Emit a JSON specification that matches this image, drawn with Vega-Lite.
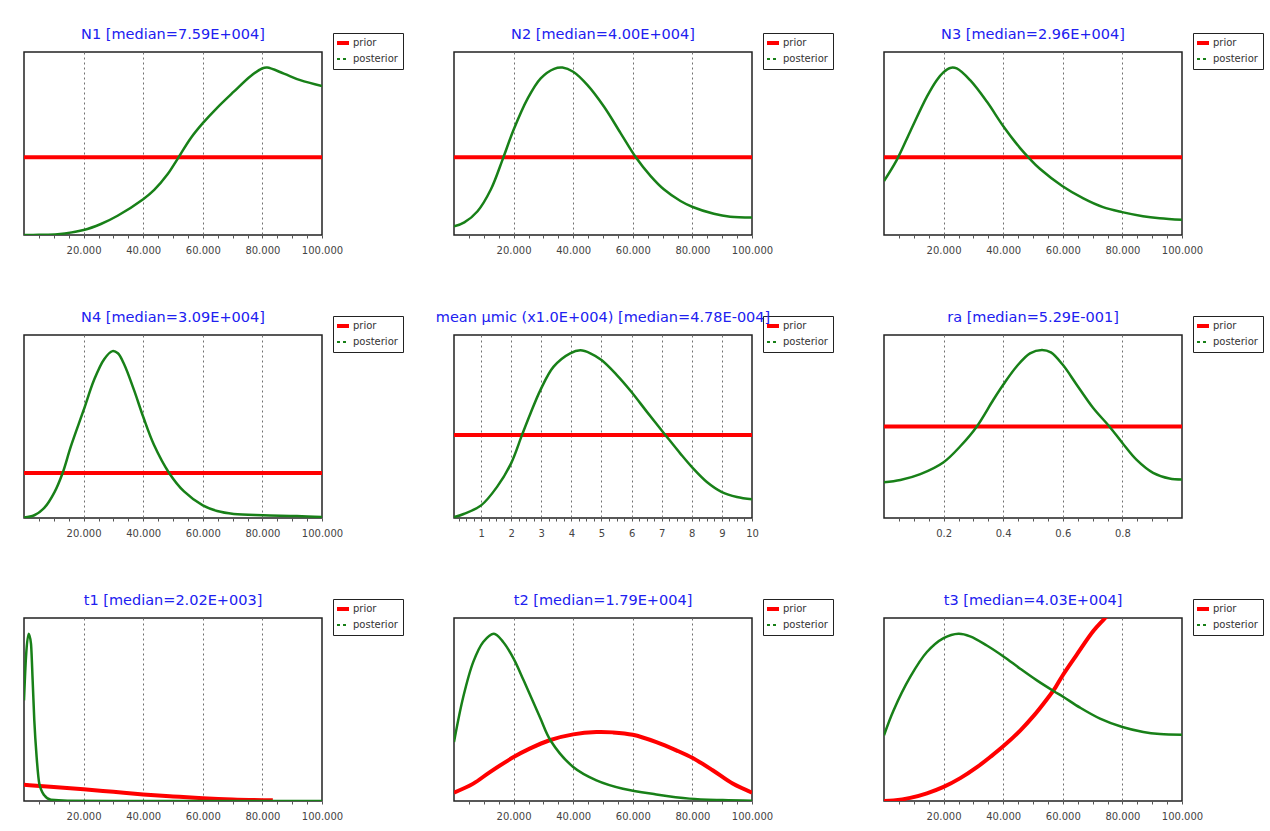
{
"$schema": "https://vega.github.io/schema/vega-lite/v6.json",
"background": "white",
"padding": {"left": 23, "top": 26, "right": 5, "bottom": 5},
"datasets": {"d": [
{"p":"N1","s":"prior","x":0,"y":0.425},{"p":"N1","s":"prior","x":100000,"y":0.425},
{"p":"N1","s":"posterior","x":0,"y":0},{"p":"N1","s":"posterior","x":5000,"y":0.001},{"p":"N1","s":"posterior","x":11300,"y":0.004},{"p":"N1","s":"posterior","x":20000,"y":0.027},{"p":"N1","s":"posterior","x":25800,"y":0.06},{"p":"N1","s":"posterior","x":31400,"y":0.105},{"p":"N1","s":"posterior","x":40000,"y":0.195},{"p":"N1","s":"posterior","x":43700,"y":0.246},{"p":"N1","s":"posterior","x":48100,"y":0.33},{"p":"N1","s":"posterior","x":51500,"y":0.415},{"p":"N1","s":"posterior","x":56000,"y":0.53},{"p":"N1","s":"posterior","x":60000,"y":0.611},{"p":"N1","s":"posterior","x":64800,"y":0.695},{"p":"N1","s":"posterior","x":70400,"y":0.783},{"p":"N1","s":"posterior","x":76000,"y":0.868},{"p":"N1","s":"posterior","x":79900,"y":0.91},{"p":"N1","s":"posterior","x":81600,"y":0.915},{"p":"N1","s":"posterior","x":87200,"y":0.882},{"p":"N1","s":"posterior","x":92700,"y":0.846},{"p":"N1","s":"posterior","x":100000,"y":0.814},
{"p":"N2","s":"prior","x":0,"y":0.425},{"p":"N2","s":"prior","x":100000,"y":0.425},
{"p":"N2","s":"posterior","x":0,"y":0.047},{"p":"N2","s":"posterior","x":3460,"y":0.069},{"p":"N2","s":"posterior","x":7900,"y":0.13},{"p":"N2","s":"posterior","x":12400,"y":0.25},{"p":"N2","s":"posterior","x":16300,"y":0.412},{"p":"N2","s":"posterior","x":20000,"y":0.575},{"p":"N2","s":"posterior","x":24700,"y":0.745},{"p":"N2","s":"posterior","x":29100,"y":0.856},{"p":"N2","s":"posterior","x":33600,"y":0.908},{"p":"N2","s":"posterior","x":36400,"y":0.915},{"p":"N2","s":"posterior","x":40000,"y":0.892},{"p":"N2","s":"posterior","x":44800,"y":0.819},{"p":"N2","s":"posterior","x":50300,"y":0.702},{"p":"N2","s":"posterior","x":55900,"y":0.557},{"p":"N2","s":"posterior","x":61000,"y":0.425},{"p":"N2","s":"posterior","x":66000,"y":0.322},{"p":"N2","s":"posterior","x":70400,"y":0.25},{"p":"N2","s":"posterior","x":76000,"y":0.186},{"p":"N2","s":"posterior","x":80100,"y":0.153},{"p":"N2","s":"posterior","x":87200,"y":0.116},{"p":"N2","s":"posterior","x":92700,"y":0.1},{"p":"N2","s":"posterior","x":100000,"y":0.096},
{"p":"N3","s":"prior","x":0,"y":0.425},{"p":"N3","s":"prior","x":100000,"y":0.425},
{"p":"N3","s":"posterior","x":0,"y":0.295},{"p":"N3","s":"posterior","x":4350,"y":0.412},{"p":"N3","s":"posterior","x":8800,"y":0.566},{"p":"N3","s":"posterior","x":14400,"y":0.756},{"p":"N3","s":"posterior","x":17700,"y":0.846},{"p":"N3","s":"posterior","x":20000,"y":0.89},{"p":"N3","s":"posterior","x":22200,"y":0.913},{"p":"N3","s":"posterior","x":24400,"y":0.91},{"p":"N3","s":"posterior","x":28900,"y":0.846},{"p":"N3","s":"posterior","x":34500,"y":0.729},{"p":"N3","s":"posterior","x":40100,"y":0.593},{"p":"N3","s":"posterior","x":45600,"y":0.476},{"p":"N3","s":"posterior","x":49000,"y":0.415},{"p":"N3","s":"posterior","x":52300,"y":0.362},{"p":"N3","s":"posterior","x":59800,"y":0.268},{"p":"N3","s":"posterior","x":66900,"y":0.2},{"p":"N3","s":"posterior","x":73500,"y":0.152},{"p":"N3","s":"posterior","x":79900,"y":0.125},{"p":"N3","s":"posterior","x":86900,"y":0.103},{"p":"N3","s":"posterior","x":92500,"y":0.092},{"p":"N3","s":"posterior","x":100000,"y":0.083},
{"p":"N4","s":"prior","x":0,"y":0.246},{"p":"N4","s":"prior","x":100000,"y":0.246},
{"p":"N4","s":"posterior","x":0,"y":0.002},{"p":"N4","s":"posterior","x":3460,"y":0.015},{"p":"N4","s":"posterior","x":6800,"y":0.055},{"p":"N4","s":"posterior","x":10200,"y":0.14},{"p":"N4","s":"posterior","x":12900,"y":0.243},{"p":"N4","s":"posterior","x":15700,"y":0.39},{"p":"N4","s":"posterior","x":20000,"y":0.589},{"p":"N4","s":"posterior","x":23500,"y":0.754},{"p":"N4","s":"posterior","x":26900,"y":0.868},{"p":"N4","s":"posterior","x":29700,"y":0.912},{"p":"N4","s":"posterior","x":31500,"y":0.9},{"p":"N4","s":"posterior","x":33600,"y":0.84},{"p":"N4","s":"posterior","x":36900,"y":0.7},{"p":"N4","s":"posterior","x":40000,"y":0.553},{"p":"N4","s":"posterior","x":43600,"y":0.4},{"p":"N4","s":"posterior","x":48700,"y":0.246},{"p":"N4","s":"posterior","x":53700,"y":0.145},{"p":"N4","s":"posterior","x":60000,"y":0.069},{"p":"N4","s":"posterior","x":64800,"y":0.038},{"p":"N4","s":"posterior","x":70400,"y":0.022},{"p":"N4","s":"posterior","x":80100,"y":0.015},{"p":"N4","s":"posterior","x":91600,"y":0.011},{"p":"N4","s":"posterior","x":100000,"y":0.005},
{"p":"mu","s":"prior","x":0.1,"y":0.454},{"p":"mu","s":"prior","x":10,"y":0.454},
{"p":"mu","s":"posterior","x":0.1,"y":0.005},{"p":"mu","s":"posterior","x":0.42,"y":0.022},{"p":"mu","s":"posterior","x":1.0,"y":0.069},{"p":"mu","s":"posterior","x":1.53,"y":0.17},{"p":"mu","s":"posterior","x":2.0,"y":0.3},{"p":"mu","s":"posterior","x":2.36,"y":0.454},{"p":"mu","s":"posterior","x":2.64,"y":0.571},{"p":"mu","s":"posterior","x":2.97,"y":0.699},{"p":"mu","s":"posterior","x":3.41,"y":0.827},{"p":"mu","s":"posterior","x":3.96,"y":0.9},{"p":"mu","s":"posterior","x":4.3,"y":0.916},{"p":"mu","s":"posterior","x":4.63,"y":0.9},{"p":"mu","s":"posterior","x":5.0,"y":0.863},{"p":"mu","s":"posterior","x":5.51,"y":0.781},{"p":"mu","s":"posterior","x":5.99,"y":0.69},{"p":"mu","s":"posterior","x":6.51,"y":0.58},{"p":"mu","s":"posterior","x":7.12,"y":0.454},{"p":"mu","s":"posterior","x":7.62,"y":0.352},{"p":"mu","s":"posterior","x":8.0,"y":0.279},{"p":"mu","s":"posterior","x":8.5,"y":0.197},{"p":"mu","s":"posterior","x":9.0,"y":0.142},{"p":"mu","s":"posterior","x":9.5,"y":0.115},{"p":"mu","s":"posterior","x":10,"y":0.102},
{"p":"ra","s":"prior","x":0,"y":0.5},{"p":"ra","s":"prior","x":1,"y":0.5},
{"p":"ra","s":"posterior","x":0,"y":0.196},{"p":"ra","s":"posterior","x":0.055,"y":0.208},{"p":"ra","s":"posterior","x":0.122,"y":0.24},{"p":"ra","s":"posterior","x":0.2,"y":0.305},{"p":"ra","s":"posterior","x":0.256,"y":0.392},{"p":"ra","s":"posterior","x":0.311,"y":0.499},{"p":"ra","s":"posterior","x":0.367,"y":0.646},{"p":"ra","s":"posterior","x":0.4,"y":0.728},{"p":"ra","s":"posterior","x":0.445,"y":0.828},{"p":"ra","s":"posterior","x":0.49,"y":0.9},{"p":"ra","s":"posterior","x":0.53,"y":0.918},{"p":"ra","s":"posterior","x":0.56,"y":0.905},{"p":"ra","s":"posterior","x":0.6,"y":0.837},{"p":"ra","s":"posterior","x":0.646,"y":0.73},{"p":"ra","s":"posterior","x":0.702,"y":0.601},{"p":"ra","s":"posterior","x":0.757,"y":0.499},{"p":"ra","s":"posterior","x":0.8,"y":0.41},{"p":"ra","s":"posterior","x":0.847,"y":0.319},{"p":"ra","s":"posterior","x":0.903,"y":0.247},{"p":"ra","s":"posterior","x":0.958,"y":0.216},{"p":"ra","s":"posterior","x":1,"y":0.211},
{"p":"t1","s":"prior","x":0,"y":0.089},{"p":"t1","s":"prior","x":10000,"y":0.076},{"p":"t1","s":"prior","x":20000,"y":0.064},{"p":"t1","s":"prior","x":30000,"y":0.05},{"p":"t1","s":"prior","x":40000,"y":0.036},{"p":"t1","s":"prior","x":50000,"y":0.025},{"p":"t1","s":"prior","x":60000,"y":0.015},{"p":"t1","s":"prior","x":70000,"y":0.008},{"p":"t1","s":"prior","x":83500,"y":0.004},
{"p":"t1","s":"posterior","x":0,"y":0.55},{"p":"t1","s":"posterior","x":670,"y":0.787},{"p":"t1","s":"posterior","x":1560,"y":0.914},{"p":"t1","s":"posterior","x":2340,"y":0.86},{"p":"t1","s":"posterior","x":2900,"y":0.66},{"p":"t1","s":"posterior","x":3460,"y":0.44},{"p":"t1","s":"posterior","x":4240,"y":0.24},{"p":"t1","s":"posterior","x":5130,"y":0.095},{"p":"t1","s":"posterior","x":6800,"y":0.031},{"p":"t1","s":"posterior","x":9040,"y":0.007},{"p":"t1","s":"posterior","x":14600,"y":0.002},{"p":"t1","s":"posterior","x":30000,"y":0},{"p":"t1","s":"posterior","x":100000,"y":0},
{"p":"t2","s":"prior","x":0,"y":0.046},{"p":"t2","s":"prior","x":6470,"y":0.095},{"p":"t2","s":"prior","x":12050,"y":0.158},{"p":"t2","s":"prior","x":20000,"y":0.24},{"p":"t2","s":"prior","x":25400,"y":0.286},{"p":"t2","s":"prior","x":32100,"y":0.332},{"p":"t2","s":"prior","x":40000,"y":0.364},{"p":"t2","s":"prior","x":47800,"y":0.377},{"p":"t2","s":"prior","x":53300,"y":0.375},{"p":"t2","s":"prior","x":60000,"y":0.362},{"p":"t2","s":"prior","x":67900,"y":0.322},{"p":"t2","s":"prior","x":74600,"y":0.277},{"p":"t2","s":"prior","x":80100,"y":0.235},{"p":"t2","s":"prior","x":86800,"y":0.168},{"p":"t2","s":"prior","x":93500,"y":0.095},{"p":"t2","s":"prior","x":100000,"y":0.046},
{"p":"t2","s":"posterior","x":0,"y":0.322},{"p":"t2","s":"posterior","x":3100,"y":0.568},{"p":"t2","s":"posterior","x":6470,"y":0.76},{"p":"t2","s":"posterior","x":9800,"y":0.869},{"p":"t2","s":"posterior","x":13400,"y":0.914},{"p":"t2","s":"posterior","x":16500,"y":0.869},{"p":"t2","s":"posterior","x":20000,"y":0.778},{"p":"t2","s":"posterior","x":23400,"y":0.658},{"p":"t2","s":"posterior","x":28800,"y":0.459},{"p":"t2","s":"posterior","x":32500,"y":0.328},{"p":"t2","s":"posterior","x":40000,"y":0.186},{"p":"t2","s":"posterior","x":47800,"y":0.113},{"p":"t2","s":"posterior","x":56700,"y":0.067},{"p":"t2","s":"posterior","x":67900,"y":0.036},{"p":"t2","s":"posterior","x":79000,"y":0.013},{"p":"t2","s":"posterior","x":90200,"y":0.005},{"p":"t2","s":"posterior","x":100000,"y":0.002},
{"p":"t3","s":"prior","x":0,"y":0},{"p":"t3","s":"prior","x":3200,"y":0.003},{"p":"t3","s":"prior","x":8800,"y":0.017},{"p":"t3","s":"prior","x":14400,"y":0.042},{"p":"t3","s":"prior","x":20000,"y":0.077},{"p":"t3","s":"prior","x":25600,"y":0.125},{"p":"t3","s":"prior","x":31200,"y":0.185},{"p":"t3","s":"prior","x":36000,"y":0.245},{"p":"t3","s":"prior","x":40100,"y":0.3},{"p":"t3","s":"prior","x":45700,"y":0.385},{"p":"t3","s":"prior","x":50200,"y":0.465},{"p":"t3","s":"prior","x":54600,"y":0.555},{"p":"t3","s":"prior","x":57500,"y":0.62},{"p":"t3","s":"prior","x":60100,"y":0.69},{"p":"t3","s":"prior","x":64700,"y":0.8},{"p":"t3","s":"prior","x":70300,"y":0.93},{"p":"t3","s":"prior","x":74200,"y":1.0},{"p":"t3","s":"prior","x":78000,"y":1.07},
{"p":"t3","s":"posterior","x":0,"y":0.359},{"p":"t3","s":"posterior","x":3200,"y":0.495},{"p":"t3","s":"posterior","x":8800,"y":0.678},{"p":"t3","s":"posterior","x":14400,"y":0.814},{"p":"t3","s":"posterior","x":20000,"y":0.89},{"p":"t3","s":"posterior","x":25000,"y":0.914},{"p":"t3","s":"posterior","x":28900,"y":0.9},{"p":"t3","s":"posterior","x":34500,"y":0.85},{"p":"t3","s":"posterior","x":40100,"y":0.79},{"p":"t3","s":"posterior","x":45700,"y":0.723},{"p":"t3","s":"posterior","x":51300,"y":0.659},{"p":"t3","s":"posterior","x":57000,"y":0.6},{"p":"t3","s":"posterior","x":60100,"y":0.57},{"p":"t3","s":"posterior","x":65800,"y":0.51},{"p":"t3","s":"posterior","x":72500,"y":0.45},{"p":"t3","s":"posterior","x":80000,"y":0.404},{"p":"t3","s":"posterior","x":87000,"y":0.377},{"p":"t3","s":"posterior","x":92600,"y":0.366},{"p":"t3","s":"posterior","x":100000,"y":0.362}
]},
"columns": 3,
"spacing": {"row": 100, "column": 132},
"bounds": "flush",
"resolve": {"scale": {"x": "independent", "y": "independent", "color": "independent"}, "legend": {"color": "independent"}},
"concat": [
{"width": 298, "height": 183, "title": "N1 [median=7.59E+004]", "data": {"name": "d"}, "transform": [{"filter": "datum.p === 'N1'"}],
 "encoding": {
  "x": {"field": "x", "type": "quantitative", "title": null, "scale": {"domain": [0, 100000], "nice": false, "zero": false}, "axis": {"values": [5000,10000,15000,20000,25000,30000,35000,40000,45000,50000,55000,60000,65000,70000,75000,80000,85000,90000,95000,100000], "labelExpr": "datum.value % 20000 === 0 ? replace(format(datum.value, ','), ',', '.') : ''", "gridOpacity": {"condition": {"test": "datum.value % 20000 === 0 && datum.value < 100000", "value": 1}, "value": 0}}},
  "y": {"field": "y", "type": "quantitative", "scale": {"domain": [0, 1], "nice": false}, "axis": null},
  "color": {"field": "s", "type": "nominal", "scale": {"domain": ["prior", "posterior"], "range": ["#ff0000", "#188018"]}, "legend": {"title": null, "orient": "none", "legendX": 309, "legendY": -19, "encode": {"symbols": {"update": {"strokeDash": {"signal": "datum.value === 'posterior' ? [3, 3] : [1, 0]"}, "strokeWidth": {"signal": "datum.value === 'posterior' ? 2 : 4"}}}}}}
 },
 "layer": [
  {"transform": [{"filter": "datum.s === 'prior'"}], "mark": {"type": "line", "strokeWidth": 4, "interpolate": "catmull-rom", "clip": true}},
  {"transform": [{"filter": "datum.s === 'posterior'"}], "mark": {"type": "line", "strokeWidth": 2.5, "interpolate": "catmull-rom", "clip": true}}
 ]},
{"width": 298, "height": 183, "title": "N2 [median=4.00E+004]", "data": {"name": "d"}, "transform": [{"filter": "datum.p === 'N2'"}],
 "encoding": {
  "x": {"field": "x", "type": "quantitative", "title": null, "scale": {"domain": [0, 100000], "nice": false, "zero": false}, "axis": {"values": [5000,10000,15000,20000,25000,30000,35000,40000,45000,50000,55000,60000,65000,70000,75000,80000,85000,90000,95000,100000], "labelExpr": "datum.value % 20000 === 0 ? replace(format(datum.value, ','), ',', '.') : ''", "gridOpacity": {"condition": {"test": "datum.value % 20000 === 0 && datum.value < 100000", "value": 1}, "value": 0}}},
  "y": {"field": "y", "type": "quantitative", "scale": {"domain": [0, 1], "nice": false}, "axis": null},
  "color": {"field": "s", "type": "nominal", "scale": {"domain": ["prior", "posterior"], "range": ["#ff0000", "#188018"]}, "legend": {"title": null, "orient": "none", "legendX": 309, "legendY": -19, "encode": {"symbols": {"update": {"strokeDash": {"signal": "datum.value === 'posterior' ? [3, 3] : [1, 0]"}, "strokeWidth": {"signal": "datum.value === 'posterior' ? 2 : 4"}}}}}}
 },
 "layer": [
  {"transform": [{"filter": "datum.s === 'prior'"}], "mark": {"type": "line", "strokeWidth": 4, "interpolate": "catmull-rom", "clip": true}},
  {"transform": [{"filter": "datum.s === 'posterior'"}], "mark": {"type": "line", "strokeWidth": 2.5, "interpolate": "catmull-rom", "clip": true}}
 ]},
{"width": 298, "height": 183, "title": "N3 [median=2.96E+004]", "data": {"name": "d"}, "transform": [{"filter": "datum.p === 'N3'"}],
 "encoding": {
  "x": {"field": "x", "type": "quantitative", "title": null, "scale": {"domain": [0, 100000], "nice": false, "zero": false}, "axis": {"values": [5000,10000,15000,20000,25000,30000,35000,40000,45000,50000,55000,60000,65000,70000,75000,80000,85000,90000,95000,100000], "labelExpr": "datum.value % 20000 === 0 ? replace(format(datum.value, ','), ',', '.') : ''", "gridOpacity": {"condition": {"test": "datum.value % 20000 === 0 && datum.value < 100000", "value": 1}, "value": 0}}},
  "y": {"field": "y", "type": "quantitative", "scale": {"domain": [0, 1], "nice": false}, "axis": null},
  "color": {"field": "s", "type": "nominal", "scale": {"domain": ["prior", "posterior"], "range": ["#ff0000", "#188018"]}, "legend": {"title": null, "orient": "none", "legendX": 309, "legendY": -19, "encode": {"symbols": {"update": {"strokeDash": {"signal": "datum.value === 'posterior' ? [3, 3] : [1, 0]"}, "strokeWidth": {"signal": "datum.value === 'posterior' ? 2 : 4"}}}}}}
 },
 "layer": [
  {"transform": [{"filter": "datum.s === 'prior'"}], "mark": {"type": "line", "strokeWidth": 4, "interpolate": "catmull-rom", "clip": true}},
  {"transform": [{"filter": "datum.s === 'posterior'"}], "mark": {"type": "line", "strokeWidth": 2.5, "interpolate": "catmull-rom", "clip": true}}
 ]},
{"width": 298, "height": 183, "title": "N4 [median=3.09E+004]", "data": {"name": "d"}, "transform": [{"filter": "datum.p === 'N4'"}],
 "encoding": {
  "x": {"field": "x", "type": "quantitative", "title": null, "scale": {"domain": [0, 100000], "nice": false, "zero": false}, "axis": {"values": [5000,10000,15000,20000,25000,30000,35000,40000,45000,50000,55000,60000,65000,70000,75000,80000,85000,90000,95000,100000], "labelExpr": "datum.value % 20000 === 0 ? replace(format(datum.value, ','), ',', '.') : ''", "gridOpacity": {"condition": {"test": "datum.value % 20000 === 0 && datum.value < 100000", "value": 1}, "value": 0}}},
  "y": {"field": "y", "type": "quantitative", "scale": {"domain": [0, 1], "nice": false}, "axis": null},
  "color": {"field": "s", "type": "nominal", "scale": {"domain": ["prior", "posterior"], "range": ["#ff0000", "#188018"]}, "legend": {"title": null, "orient": "none", "legendX": 309, "legendY": -19, "encode": {"symbols": {"update": {"strokeDash": {"signal": "datum.value === 'posterior' ? [3, 3] : [1, 0]"}, "strokeWidth": {"signal": "datum.value === 'posterior' ? 2 : 4"}}}}}}
 },
 "layer": [
  {"transform": [{"filter": "datum.s === 'prior'"}], "mark": {"type": "line", "strokeWidth": 4, "interpolate": "catmull-rom", "clip": true}},
  {"transform": [{"filter": "datum.s === 'posterior'"}], "mark": {"type": "line", "strokeWidth": 2.5, "interpolate": "catmull-rom", "clip": true}}
 ]},
{"width": 298, "height": 183, "title": "mean µmic (x1.0E+004) [median=4.78E-004]", "data": {"name": "d"}, "transform": [{"filter": "datum.p === 'mu'"}],
 "encoding": {
  "x": {"field": "x", "type": "quantitative", "title": null, "scale": {"domain": [0.1, 10], "nice": false, "zero": false}, "axis": {"values": [0.25,0.5,0.75,1,1.25,1.5,1.75,2,2.25,2.5,2.75,3,3.25,3.5,3.75,4,4.25,4.5,4.75,5,5.25,5.5,5.75,6,6.25,6.5,6.75,7,7.25,7.5,7.75,8,8.25,8.5,8.75,9,9.25,9.5,9.75,10], "labelExpr": "datum.value % 1 === 0 ? format(datum.value, 'd') : ''", "gridOpacity": {"condition": {"test": "datum.value % 1 === 0 && datum.value < 10", "value": 1}, "value": 0}}},
  "y": {"field": "y", "type": "quantitative", "scale": {"domain": [0, 1], "nice": false}, "axis": null},
  "color": {"field": "s", "type": "nominal", "scale": {"domain": ["prior", "posterior"], "range": ["#ff0000", "#188018"]}, "legend": {"title": null, "orient": "none", "legendX": 309, "legendY": -19, "encode": {"symbols": {"update": {"strokeDash": {"signal": "datum.value === 'posterior' ? [3, 3] : [1, 0]"}, "strokeWidth": {"signal": "datum.value === 'posterior' ? 2 : 4"}}}}}}
 },
 "layer": [
  {"transform": [{"filter": "datum.s === 'prior'"}], "mark": {"type": "line", "strokeWidth": 4, "interpolate": "catmull-rom", "clip": true}},
  {"transform": [{"filter": "datum.s === 'posterior'"}], "mark": {"type": "line", "strokeWidth": 2.5, "interpolate": "catmull-rom", "clip": true}}
 ]},
{"width": 298, "height": 183, "title": "ra [median=5.29E-001]", "data": {"name": "d"}, "transform": [{"filter": "datum.p === 'ra'"}],
 "encoding": {
  "x": {"field": "x", "type": "quantitative", "title": null, "scale": {"domain": [0, 1], "nice": false, "zero": false}, "axis": {"values": [0.05,0.1,0.15,0.2,0.25,0.3,0.35,0.4,0.45,0.5,0.55,0.6,0.65,0.7,0.75,0.8,0.85,0.9,0.95], "labelExpr": "abs(datum.value * 5 - round(datum.value * 5)) < 0.001 ? format(datum.value, '.1f') : ''", "gridOpacity": {"condition": {"test": "abs(datum.value * 5 - round(datum.value * 5)) < 0.001", "value": 1}, "value": 0}}},
  "y": {"field": "y", "type": "quantitative", "scale": {"domain": [0, 1], "nice": false}, "axis": null},
  "color": {"field": "s", "type": "nominal", "scale": {"domain": ["prior", "posterior"], "range": ["#ff0000", "#188018"]}, "legend": {"title": null, "orient": "none", "legendX": 309, "legendY": -19, "encode": {"symbols": {"update": {"strokeDash": {"signal": "datum.value === 'posterior' ? [3, 3] : [1, 0]"}, "strokeWidth": {"signal": "datum.value === 'posterior' ? 2 : 4"}}}}}}
 },
 "layer": [
  {"transform": [{"filter": "datum.s === 'prior'"}], "mark": {"type": "line", "strokeWidth": 4, "interpolate": "catmull-rom", "clip": true}},
  {"transform": [{"filter": "datum.s === 'posterior'"}], "mark": {"type": "line", "strokeWidth": 2.5, "interpolate": "catmull-rom", "clip": true}}
 ]},
{"width": 298, "height": 183, "title": "t1 [median=2.02E+003]", "data": {"name": "d"}, "transform": [{"filter": "datum.p === 't1'"}],
 "encoding": {
  "x": {"field": "x", "type": "quantitative", "title": null, "scale": {"domain": [0, 100000], "nice": false, "zero": false}, "axis": {"values": [5000,10000,15000,20000,25000,30000,35000,40000,45000,50000,55000,60000,65000,70000,75000,80000,85000,90000,95000,100000], "labelExpr": "datum.value % 20000 === 0 ? replace(format(datum.value, ','), ',', '.') : ''", "gridOpacity": {"condition": {"test": "datum.value % 20000 === 0 && datum.value < 100000", "value": 1}, "value": 0}}},
  "y": {"field": "y", "type": "quantitative", "scale": {"domain": [0, 1], "nice": false}, "axis": null},
  "color": {"field": "s", "type": "nominal", "scale": {"domain": ["prior", "posterior"], "range": ["#ff0000", "#188018"]}, "legend": {"title": null, "orient": "none", "legendX": 309, "legendY": -19, "encode": {"symbols": {"update": {"strokeDash": {"signal": "datum.value === 'posterior' ? [3, 3] : [1, 0]"}, "strokeWidth": {"signal": "datum.value === 'posterior' ? 2 : 4"}}}}}}
 },
 "layer": [
  {"transform": [{"filter": "datum.s === 'prior'"}], "mark": {"type": "line", "strokeWidth": 4, "interpolate": "monotone", "clip": true}},
  {"transform": [{"filter": "datum.s === 'posterior'"}], "mark": {"type": "line", "strokeWidth": 2.5, "interpolate": "monotone", "clip": true}}
 ]},
{"width": 298, "height": 183, "title": "t2 [median=1.79E+004]", "data": {"name": "d"}, "transform": [{"filter": "datum.p === 't2'"}],
 "encoding": {
  "x": {"field": "x", "type": "quantitative", "title": null, "scale": {"domain": [0, 100000], "nice": false, "zero": false}, "axis": {"values": [5000,10000,15000,20000,25000,30000,35000,40000,45000,50000,55000,60000,65000,70000,75000,80000,85000,90000,95000,100000], "labelExpr": "datum.value % 20000 === 0 ? replace(format(datum.value, ','), ',', '.') : ''", "gridOpacity": {"condition": {"test": "datum.value % 20000 === 0 && datum.value < 100000", "value": 1}, "value": 0}}},
  "y": {"field": "y", "type": "quantitative", "scale": {"domain": [0, 1], "nice": false}, "axis": null},
  "color": {"field": "s", "type": "nominal", "scale": {"domain": ["prior", "posterior"], "range": ["#ff0000", "#188018"]}, "legend": {"title": null, "orient": "none", "legendX": 309, "legendY": -19, "encode": {"symbols": {"update": {"strokeDash": {"signal": "datum.value === 'posterior' ? [3, 3] : [1, 0]"}, "strokeWidth": {"signal": "datum.value === 'posterior' ? 2 : 4"}}}}}}
 },
 "layer": [
  {"transform": [{"filter": "datum.s === 'prior'"}], "mark": {"type": "line", "strokeWidth": 4, "interpolate": "catmull-rom", "clip": true}},
  {"transform": [{"filter": "datum.s === 'posterior'"}], "mark": {"type": "line", "strokeWidth": 2.5, "interpolate": "catmull-rom", "clip": true}}
 ]},
{"width": 298, "height": 183, "title": "t3 [median=4.03E+004]", "data": {"name": "d"}, "transform": [{"filter": "datum.p === 't3'"}],
 "encoding": {
  "x": {"field": "x", "type": "quantitative", "title": null, "scale": {"domain": [0, 100000], "nice": false, "zero": false}, "axis": {"values": [5000,10000,15000,20000,25000,30000,35000,40000,45000,50000,55000,60000,65000,70000,75000,80000,85000,90000,95000,100000], "labelExpr": "datum.value % 20000 === 0 ? replace(format(datum.value, ','), ',', '.') : ''", "gridOpacity": {"condition": {"test": "datum.value % 20000 === 0 && datum.value < 100000", "value": 1}, "value": 0}}},
  "y": {"field": "y", "type": "quantitative", "scale": {"domain": [0, 1], "nice": false}, "axis": null},
  "color": {"field": "s", "type": "nominal", "scale": {"domain": ["prior", "posterior"], "range": ["#ff0000", "#188018"]}, "legend": {"title": null, "orient": "none", "legendX": 309, "legendY": -19, "encode": {"symbols": {"update": {"strokeDash": {"signal": "datum.value === 'posterior' ? [3, 3] : [1, 0]"}, "strokeWidth": {"signal": "datum.value === 'posterior' ? 2 : 4"}}}}}}
 },
 "layer": [
  {"transform": [{"filter": "datum.s === 'prior'"}], "mark": {"type": "line", "strokeWidth": 4, "interpolate": "catmull-rom", "clip": true}},
  {"transform": [{"filter": "datum.s === 'posterior'"}], "mark": {"type": "line", "strokeWidth": 2.5, "interpolate": "catmull-rom", "clip": true}}
 ]}
],
"config": {
 "view": {"stroke": "#222222", "strokeWidth": 1.5},
 "title": {"font": "DejaVu Sans", "fontSize": 14.5, "fontWeight": "normal", "color": "#2020f0", "anchor": "middle", "frame": "group", "offset": -10},
 "axis": {"labelFont": "DejaVu Sans", "labelFontSize": 10, "labelColor": "#444444", "tickColor": "#555555", "tickSize": 3, "domain": false, "grid": true, "gridColor": "#707070", "gridDash": [2, 3], "gridWidth": 1, "labelPadding": 7, "labelFlush": false, "labelOverlap": false},
 "legend": {"labelFont": "DejaVu Sans", "labelFontSize": 10, "labelColor": "#333333", "symbolType": "stroke", "symbolSize": 144, "symbolStrokeWidth": 3, "strokeColor": "#222222", "fillColor": "white", "padding": 5, "rowPadding": 3, "labelOffset": 5, "cornerRadius": 0}
}
}
